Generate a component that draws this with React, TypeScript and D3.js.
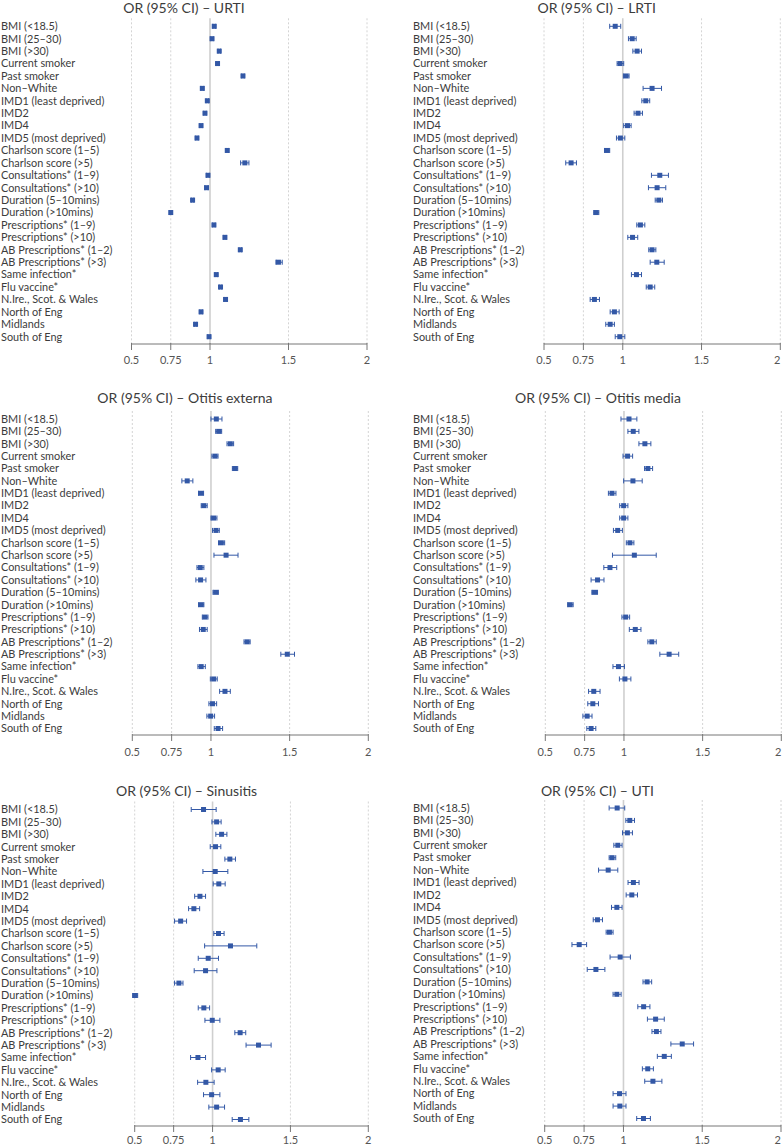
import React from "react";
import * as d3 from "d3";

const categories = [
  "BMI (<18.5)", "BMI (25–30)", "BMI (>30)", "Current smoker", "Past smoker", "Non–White",
  "IMD1 (least deprived)", "IMD2", "IMD4", "IMD5 (most deprived)", "Charlson score (1–5)",
  "Charlson score (>5)", "Consultations* (1–9)", "Consultations* (>10)", "Duration (5–10mins)",
  "Duration (>10mins)", "Prescriptions* (1–9)", "Prescriptions* (>10)", "AB Prescriptions* (1–2)",
  "AB Prescriptions* (>3)", "Same infection*", "Flu vaccine*", "N.Ire., Scot. & Wales",
  "North of Eng", "Midlands", "South of Eng",
];

const tickValues = [0.5, 0.75, 1, 1.5, 2];
const tickLabels = ["0.5", "0.75", "1", "1.5", "2"];

// URTI
const urtiOR = [1.027, 1.013, 1.059, 1.048, 1.21, 0.951, 0.983, 0.968, 0.943, 0.917, 1.11, 1.222, 0.987, 0.978, 0.889, 0.75, 1.025, 1.095, 1.193, 1.436, 1.04, 1.067, 1.099, 0.943, 0.908, 0.994];
const urtiLo = [1.018, 1.005, 1.051, 1.04, 1.202, 0.942, 0.975, 0.96, 0.935, 0.909, 1.102, 1.195, 0.978, 0.968, 0.881, 0.742, 1.017, 1.087, 1.185, 1.42, 1.032, 1.059, 1.09, 0.935, 0.9, 0.986];
const urtiHi = [1.036, 1.021, 1.067, 1.056, 1.218, 0.96, 0.991, 0.976, 0.951, 0.925, 1.118, 1.248, 0.996, 0.988, 0.897, 0.758, 1.033, 1.103, 1.201, 1.46, 1.048, 1.075, 1.108, 0.951, 0.916, 1.002];

// LRTI
const lrtiOR = [0.952, 1.06, 1.091, 0.983, 1.021, 1.186, 1.146, 1.097, 1.03, 0.985, 0.901, 0.672, 1.235, 1.218, 1.229, 0.831, 1.112, 1.062, 1.186, 1.216, 1.087, 1.174, 0.82, 0.947, 0.92, 0.981];
const lrtiLo = [0.917, 1.036, 1.064, 0.964, 1.004, 1.129, 1.121, 1.072, 1.006, 0.96, 0.884, 0.638, 1.182, 1.163, 1.206, 0.816, 1.089, 1.032, 1.165, 1.174, 1.055, 1.149, 0.793, 0.92, 0.892, 0.952];
const lrtiHi = [0.987, 1.085, 1.119, 1.006, 1.04, 1.246, 1.171, 1.125, 1.053, 1.013, 0.917, 0.706, 1.29, 1.273, 1.252, 0.848, 1.14, 1.095, 1.21, 1.263, 1.119, 1.203, 0.852, 0.977, 0.947, 1.013];

// Otitis externa
const oeOR = [1.034, 1.049, 1.123, 1.026, 1.153, 0.849, 0.936, 0.955, 1.017, 1.032, 1.066, 1.096, 0.932, 0.934, 1.03, 0.938, 0.962, 0.951, 1.23, 1.485, 0.938, 1.017, 1.089, 1.01, 0.998, 1.045];
const oeLo = [1.0, 1.03, 1.102, 1.006, 1.136, 0.815, 0.921, 0.938, 1.0, 1.01, 1.048, 1.019, 0.911, 0.904, 1.013, 0.921, 0.945, 0.927, 1.21, 1.444, 0.917, 0.996, 1.055, 0.987, 0.974, 1.021];
const oeHi = [1.07, 1.068, 1.144, 1.045, 1.17, 0.885, 0.953, 0.976, 1.038, 1.053, 1.087, 1.172, 0.955, 0.968, 1.047, 0.955, 0.981, 0.976, 1.249, 1.531, 0.964, 1.04, 1.123, 1.036, 1.023, 1.074];

// Otitis media
const omOR = [1.032, 1.059, 1.133, 1.023, 1.152, 1.057, 0.924, 0.998, 0.998, 0.96, 1.038, 1.066, 0.911, 0.832, 0.813, 0.658, 1.011, 1.072, 1.177, 1.287, 0.965, 1.006, 0.808, 0.802, 0.766, 0.791];
const omLo = [0.981, 1.025, 1.095, 0.994, 1.131, 0.998, 0.901, 0.973, 0.973, 0.933, 1.015, 0.927, 0.872, 0.791, 0.796, 0.642, 0.987, 1.034, 1.152, 1.228, 0.93, 0.971, 0.775, 0.77, 0.739, 0.764];
const omHi = [1.082, 1.095, 1.171, 1.055, 1.182, 1.116, 0.949, 1.025, 1.025, 0.99, 1.063, 1.205, 0.954, 0.873, 0.832, 0.677, 1.036, 1.108, 1.205, 1.348, 1.003, 1.044, 0.848, 0.838, 0.797, 0.821];

// Sinusitis
const sinOR = [0.942, 1.026, 1.058, 1.019, 1.111, 1.017, 1.04, 0.919, 0.88, 0.795, 1.038, 1.115, 0.972, 0.955, 0.784, 0.502, 0.944, 0.998, 1.177, 1.295, 0.906, 1.036, 0.957, 0.994, 1.026, 1.179];
const sinLo = [0.863, 0.996, 1.021, 0.985, 1.079, 0.938, 1.004, 0.885, 0.846, 0.756, 1.008, 0.949, 0.908, 0.882, 0.756, 0.487, 0.908, 0.951, 1.143, 1.215, 0.859, 0.994, 0.904, 0.942, 0.976, 1.126];
const sinHi = [1.023, 1.055, 1.092, 1.053, 1.147, 1.098, 1.081, 0.955, 0.917, 0.833, 1.074, 1.284, 1.038, 1.028, 0.81, 0.519, 0.981, 1.047, 1.213, 1.376, 0.955, 1.081, 1.01, 1.047, 1.077, 1.233];

// UTI
const utiOR = [0.96, 1.04, 1.025, 0.964, 0.928, 0.903, 1.063, 1.053, 0.958, 0.835, 0.911, 0.719, 0.979, 0.825, 1.15, 0.958, 1.128, 1.204, 1.209, 1.373, 1.259, 1.154, 1.187, 0.975, 0.977, 1.127];
const utiLo = [0.909, 1.015, 0.994, 0.939, 0.909, 0.842, 1.029, 1.017, 0.924, 0.808, 0.89, 0.673, 0.915, 0.77, 1.124, 0.934, 1.091, 1.152, 1.181, 1.301, 1.215, 1.12, 1.135, 0.934, 0.934, 1.084];
const utiHi = [1.008, 1.07, 1.057, 0.991, 0.951, 0.964, 1.099, 1.089, 0.991, 0.867, 0.934, 0.766, 1.044, 0.882, 1.179, 0.985, 1.168, 1.259, 1.238, 1.445, 1.304, 1.19, 1.244, 1.016, 1.016, 1.171];

const panelTitles = [
  "OR (95% CI) – URTI", "OR (95% CI) – LRTI",
  "OR (95% CI) – Otitis externa", "OR (95% CI) – Otitis media",
  "OR (95% CI) – Sinusitis", "OR (95% CI) – UTI",
];
const panelData = [
  [urtiOR, urtiLo, urtiHi], [lrtiOR, lrtiLo, lrtiHi],
  [oeOR, oeLo, oeHi], [omOR, omLo, omHi],
  [sinOR, sinLo, sinHi], [utiOR, utiLo, utiHi],
];

// layout
const layouts = [
  { labelX: 1, x0: 131.5, x1: 367, titleY: 8, top: 26.3, bottom: 336.7, axisY: 344, tickY: 360.5 },
  { labelX: 413, x0: 544, x1: 780.3, titleY: 8, top: 26.3, bottom: 336.7, axisY: 344, tickY: 360.5 },
  { labelX: 1, x0: 132.3, x1: 368.3, titleY: 398, top: 419, bottom: 728.5, axisY: 735, tickY: 752 },
  { labelX: 413, x0: 545.3, x1: 781.3, titleY: 398, top: 419, bottom: 728.5, axisY: 735, tickY: 752 },
  { labelX: 1, x0: 134.7, x1: 368.3, titleY: 791, top: 809.5, bottom: 1119.5, axisY: 1126, tickY: 1140 },
  { labelX: 413, x0: 544.7, x1: 781, titleY: 791, top: 808, bottom: 1118.5, axisY: 1126, tickY: 1140 },
];

const FONT = "Lato, 'Noto Sans', sans-serif";
const MARK = "#3358a6";
const TEXT = "#3c3c3c";

function Panel({ idx }: { idx: number }) {
  const L = layouts[idx];
  const [or, lo, hi] = panelData[idx];
  const x = d3.scaleLinear().domain([0.5, 2]).range([L.x0, L.x1]);
  const y = d3.scalePoint<string>().domain(categories).range([L.top, L.bottom]);
  const gridTop = L.top - 8;
  return (
    <g>
      <text x={x(1) - 26} y={L.titleY} dy="0.35em" textAnchor="middle" fontSize={14} fill={TEXT} fontFamily={FONT}>
        {panelTitles[idx]}
      </text>
      {tickValues.map((t) =>
        t === 1 ? null : (
          <line key={"g" + t} x1={x(t)} x2={x(t)} y1={gridTop} y2={L.axisY} stroke="#d4d4d4" strokeWidth={1} strokeDasharray="2,2" />
        )
      )}
      <line x1={x(1)} x2={x(1)} y1={gridTop} y2={L.axisY} stroke="#cfcfcf" strokeWidth={1.6} />
      {categories.map((c) => (
        <text key={c} x={L.labelX} y={y(c)} dy="0.35em" fontSize={10.9} fill={TEXT} fontFamily={FONT}>
          {c}
        </text>
      ))}
      {categories.map((c, i) => {
        const yy = y(c) as number;
        return (
          <g key={"m" + c}>
            <line x1={x(lo[i])} x2={x(hi[i])} y1={yy} y2={yy} stroke={MARK} strokeWidth={1} />
            <line x1={x(lo[i])} x2={x(lo[i])} y1={yy - 2.5} y2={yy + 2.5} stroke={MARK} strokeWidth={1} />
            <line x1={x(hi[i])} x2={x(hi[i])} y1={yy - 2.5} y2={yy + 2.5} stroke={MARK} strokeWidth={1} />
            <rect x={x(or[i]) - 2.5} y={yy - 2.5} width={5} height={5} fill={MARK} />
          </g>
        );
      })}
      <line x1={L.x0} x2={L.x1} y1={L.axisY} y2={L.axisY} stroke="#777" strokeWidth={1} />
      {tickValues.map((t, i) => (
        <g key={"t" + t}>
          <line x1={x(t)} x2={x(t)} y1={L.axisY - 1} y2={L.axisY + 6} stroke="#777" strokeWidth={1} />
          <text x={x(t)} y={L.tickY} dy="0.35em" textAnchor={t === 2 && idx % 2 === 1 ? "end" : "middle"} fontSize={11} fill="#555" fontFamily={FONT}>
            {tickLabels[i]}
          </text>
        </g>
      ))}
    </g>
  );
}

export default function App() {
  return (
    <svg width={783} height={1146} style={{ position: "absolute", left: 0, top: 0, background: "#fff" }}>
      <rect width={783} height={1146} fill="#fff" />
      {panelTitles.map((_, i) => (
        <Panel key={i} idx={i} />
      ))}
    </svg>
  );
}
